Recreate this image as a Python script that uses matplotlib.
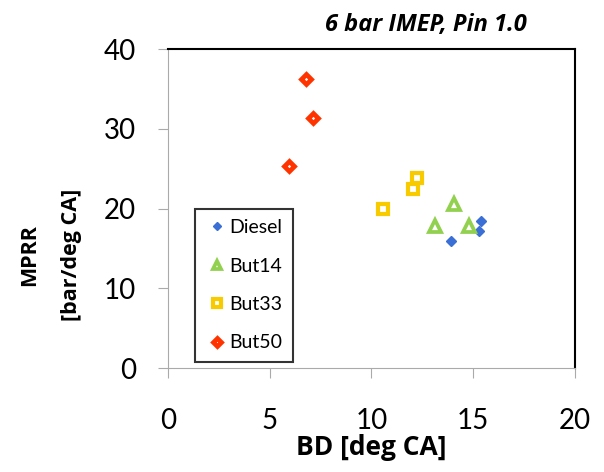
import matplotlib
matplotlib.use("Agg")
import matplotlib.pyplot as plt

plt.rcParams['font.family'] = ['Lato', 'DejaVu Sans']
bold_font = ['Open Sans', 'DejaVu Sans']

diesel_bd = [13.9, 15.4, 15.3]
diesel_mprr = [15.9, 18.4, 17.2]
but14_bd = [14.05, 13.1, 14.8]
but14_mprr = [20.6, 17.8, 17.8]
but33_bd = [10.55, 12.05, 12.25]
but33_mprr = [20.0, 22.4, 23.8]
but50_bd = [6.8, 7.15, 5.95]
but50_mprr = [36.2, 31.4, 25.4]

fig = plt.figure(figsize=(6.04, 4.72), dpi=100)
ax = fig.add_axes([0.278, 0.220, 0.674, 0.676])

ax.plot(diesel_bd, diesel_mprr, 'D', ms=5.5, color='#3a6fd6', mec='#3a6fd6',
        label='Diesel', zorder=3)
ax.plot(but14_bd, but14_mprr, '^', ms=8, mfc='white', mec='#92d050', mew=2.7,
        label='But14', zorder=3)
ax.plot(but33_bd, but33_mprr, 's', ms=7.5, mfc='white', mec='#f7cb00', mew=3,
        label='But33', zorder=3)
ax.plot(but50_bd, but50_mprr, 'D', ms=5.4, mfc='white', mec='#ff3300', mew=3.4,
        label='But50', zorder=3)

ax.set_xlim(0, 20)
ax.set_ylim(0, 40)
ax.set_xticks([0, 5, 10, 15, 20])
ax.set_yticks([0, 10, 20, 30, 40])
ax.tick_params(labelsize=20, direction='out', length=7, color='#aaaaaa')
ax.tick_params(axis='x', pad=22)
ax.tick_params(axis='y', pad=16)
ax.spines['left'].set_color('#aaaaaa')
ax.spines['bottom'].set_color('#aaaaaa')
ax.spines['top'].set_linewidth(1.5)
ax.spines['right'].set_linewidth(1.5)

ax.set_xlabel('BD [deg CA]', fontsize=19, fontweight='bold', family=bold_font,
              labelpad=0)
ax.set_ylabel('MPRR\n[bar/deg CA]', fontsize=15.5, fontweight='bold', family=bold_font,
              linespacing=2.3)
ax.yaxis.set_label_coords(-0.21, 0.355)
ax.text(0.882, 1.075, '6 bar IMEP, Pin 1.0', transform=ax.transAxes, fontsize=17,
        fontweight='bold', style='italic', family=bold_font, ha='right', va='center')

leg = ax.legend(loc='lower left', bbox_to_anchor=(0.066, 0.019), fontsize=14,
                frameon=True, fancybox=False, edgecolor='black', labelspacing=1.1,
                handletextpad=0.0, handlelength=1.2, borderpad=0.55, markerscale=0.8,
                borderaxespad=0)
leg.get_frame().set_linewidth(1.5)

fig.savefig('out.png', dpi=100)
